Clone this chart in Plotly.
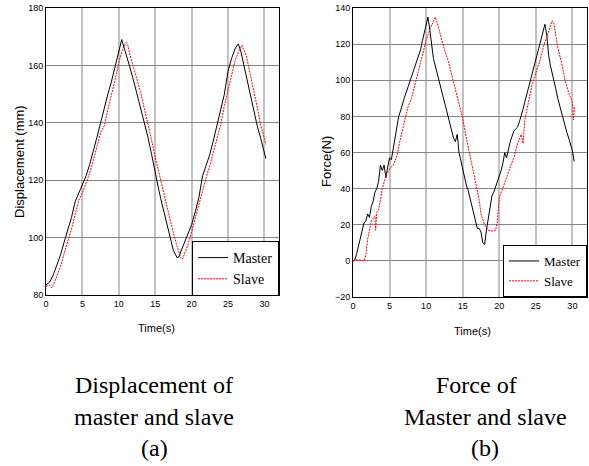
import plotly.graph_objects as go

# ---------------- data ----------------
disp_master_t = [0, 0.5, 1.0, 1.5, 2.0, 2.5, 3.0, 3.5, 4.0, 4.25, 4.5, 5.0, 5.5, 6.0, 6.5, 7.0, 7.5, 8.0, 8.5, 9.0,
                 9.5, 10.0, 10.4, 10.75, 11.0, 11.5, 12.0, 12.5, 13.0, 13.5, 14.0, 14.5, 15.0, 15.5, 16.0, 16.5,
                 17.0, 17.5, 18.0, 18.25, 18.5, 19.0, 19.5, 20.0, 20.5, 21.0, 21.5, 22.0, 22.5, 23.0, 23.5, 24.0,
                 24.5, 25.0, 25.5, 26.0, 26.4, 26.75, 27.0, 27.5, 28.0, 28.5, 29.0, 29.5, 30.0, 30.2]
disp_master_v = [83.5, 84.5, 87, 90.5, 94, 98.5, 102.5, 107, 112.5, 114, 115, 118, 121.5, 125.5, 130, 135, 140, 145.5,
                 150, 154.5, 159.5, 165, 169, 166, 164, 159.5, 155, 150, 145.5, 141, 135, 129, 122.5, 116.5, 111,
                 105.5, 100, 95.5, 93, 93.2, 95, 98, 101, 104.5, 109, 114, 121.5, 125, 129, 134, 139, 144, 150, 158,
                 162.5, 166, 167.5, 165, 162, 157, 151, 145, 139, 134.5, 130, 127.5]

disp_slave_t = [0, 0.5, 0.75, 1.0, 1.25, 1.5, 2.0, 2.5, 3.0, 3.5, 4.0, 4.5, 5.0, 5.5, 6.0, 6.5, 7.0, 7.5, 8.0, 8.5,
                9.0, 9.5, 10.0, 10.5, 11.0, 11.25, 11.5, 12.0, 12.5, 13.0, 13.5, 14.0, 14.5, 15.0, 15.5, 16.0,
                16.5, 17.0, 17.5, 18.0, 18.5, 18.75, 19.0, 19.5, 20.0, 20.5, 21.0, 21.5, 22.0, 22.5, 23.0, 23.5,
                24.0, 24.5, 25.0, 25.5, 26.0, 26.5, 26.9, 27.5, 28.0, 28.5, 29.0, 29.5, 30.0, 30.2]
disp_slave_v = [83, 83.5, 82.5, 83.5, 85, 86.5, 90, 94.5, 98.5, 103, 108, 113, 115.5, 119, 122.5, 127, 131.5, 136.5,
                139, 145, 150, 155, 161, 165.5, 168, 167, 164, 159.5, 155, 150.5, 145, 140, 134, 128, 122.5, 117,
                112, 106.5, 101.5, 97, 93, 92.5, 94, 97.5, 102, 107, 111.5, 116.5, 121, 125, 130, 134.5, 139.5,
                146, 151, 157, 162, 165, 167, 163.5, 158, 151.5, 145.5, 139, 134.5, 132.5]

force_master_t = [0, 0.25, 0.5, 0.75, 1.0, 1.25, 1.5, 1.75, 2.0, 2.25, 2.5, 2.75, 3.0, 3.25, 3.5, 3.75, 4.0, 4.25,
                  4.5, 4.75, 5.0, 5.25, 5.5, 5.75, 6.0, 6.25, 6.5, 6.75, 7.0, 7.25, 7.5, 7.75, 8.0, 8.25, 8.5,
                  8.75, 9.0, 9.25, 9.5, 9.75, 10.0, 10.25, 10.5, 10.75, 11.0, 11.25, 11.5, 11.75, 12.0, 12.25,
                  12.5, 12.75, 13.0, 13.25, 13.5, 13.75, 14.0, 14.25, 14.5, 14.75, 15.0, 15.25, 15.5, 15.75,
                  16.0, 16.25, 16.5, 16.75, 17.0, 17.25, 17.5, 17.75, 18.0, 18.25, 18.5, 18.75, 19.0, 19.25,
                  19.5, 19.75, 20.0, 20.25, 20.5, 20.75, 21.0, 21.25, 21.5, 21.75, 22.0, 22.25, 22.5, 22.75,
                  23.0, 23.25, 23.5, 23.75, 24.0, 24.25, 24.5, 24.75, 25.0, 25.25, 25.5, 25.75, 26.0, 26.25,
                  26.5, 26.75, 27.0, 27.25, 27.5, 27.75, 28.0, 28.25, 28.5, 28.75, 29.0, 29.25, 29.5, 29.75,
                  30.0, 30.25]
force_master_v = [0, 0.5, 4, 8, 12, 17, 21, 22, 26, 24, 30, 33, 38, 40, 44, 53, 50, 53, 46, 52, 57, 56, 62, 70, 75,
                  80, 83, 87, 90, 93, 96, 100, 103, 106, 108, 111, 114, 117, 122, 126, 131, 135, 128, 118, 112,
                  108, 104, 100, 96, 93, 89, 84, 80, 76, 73, 68, 66, 70, 60, 55, 51, 46, 42, 39, 35, 31, 27, 22,
                  18, 18, 16, 10, 9, 17, 24, 30, 36, 38, 41, 44, 46, 50, 54, 60, 57, 62, 66, 69, 72, 73, 74, 77,
                  80, 84, 88, 92, 96, 100, 104, 108, 112, 115, 119, 123, 127, 131, 125, 114, 108, 104, 100, 95,
                  90, 86, 82, 78, 74, 71, 68, 65, 61, 55]

force_slave_t = [0, 0.5, 1.0, 1.5, 1.75, 2.0, 2.5, 3.0, 3.1, 3.25, 3.5, 4.0, 4.5, 5.0, 5.5, 6.0, 6.5, 7.0, 7.5, 8.0,
                 8.5, 9.0, 9.5, 10.0, 10.5, 11.0, 11.25, 11.5, 12.0, 12.5, 13.0, 13.5, 14.0, 14.5, 15.0, 15.5,
                 16.0, 16.5, 17.0, 17.25, 17.5, 18.0, 18.5, 19.0, 19.5, 19.75, 20.0, 20.5, 21.0, 21.5, 22.0, 22.5,
                 23.0, 23.25, 23.5, 24.0, 24.5, 25.0, 25.5, 26.0, 26.5, 27.0, 27.25, 27.5, 28.0, 28.5, 29.0, 29.5,
                 30.0, 30.15, 30.3]
force_slave_v = [0, 0.5, 0.5, 0, 3, 12, 22, 25, 17, 27, 28, 40, 47, 51, 53, 58, 68, 76, 85, 90, 98, 106, 114, 122,
                 128, 133, 135, 132, 124, 117, 111, 103, 96, 87, 79, 68, 58, 50, 38, 34, 26, 20, 17, 16.5, 17, 22,
                 35, 40, 46, 52, 57, 65, 70, 65, 78, 88, 98, 104, 110, 118, 124, 130, 133, 131, 118, 110, 100, 93,
                 88, 78, 85]

x_ticks = [0, 5, 10, 15, 20, 25, 30]
disp_ticks = [80, 100, 120, 140, 160, 180]
force_ticks = [-20, 0, 20, 40, 60, 80, 100, 120, 140]

# ---------------- figure ----------------
W, H = 589, 466
fig = go.Figure()

master_line = dict(color="black", width=1)
slave_line = dict(color="#ff0000", width=1, dash="2px,1px")

fig.add_trace(go.Scatter(x=disp_master_t, y=disp_master_v, mode="lines", name="Master",
                         line=master_line, xaxis="x", yaxis="y", legend="legend"))
fig.add_trace(go.Scatter(x=disp_slave_t, y=disp_slave_v, mode="lines", name="Slave",
                         line=slave_line, xaxis="x", yaxis="y", legend="legend"))
fig.add_trace(go.Scatter(x=force_master_t, y=force_master_v, mode="lines", name="Master",
                         line=master_line, xaxis="x2", yaxis="y2", legend="legend2"))
fig.add_trace(go.Scatter(x=force_slave_t, y=force_slave_v, mode="lines", name="Slave",
                         line=slave_line, xaxis="x2", yaxis="y2", legend="legend2"))

tickfont = dict(family="Liberation Sans, Arial", size=9, color="black")
base = dict(showline=True, linecolor="black", linewidth=1, mirror=True, showgrid=True,
            zeroline=False, ticks="", tickfont=tickfont, automargin=False)
x_axis_style = dict(gridcolor="#c2c2c2", gridwidth=1.5, **base)
y_axis_style = dict(gridcolor="#858585", gridwidth=1.2, **base)

fig.update_layout(
    width=W, height=H,
    margin=dict(l=0, r=0, t=0, b=0, autoexpand=False),
    paper_bgcolor="white", plot_bgcolor="white",
    xaxis=dict(domain=[46 / W, 279 / W], range=[0, 32], tickvals=x_ticks, anchor="y", **x_axis_style),
    yaxis=dict(domain=[1 - 295 / H, 1 - 8 / H], range=[80, 180], tickvals=disp_ticks, anchor="x", **y_axis_style),
    xaxis2=dict(domain=[353 / W, 587 / W], range=[0, 32], tickvals=x_ticks, anchor="y2", **x_axis_style),
    yaxis2=dict(domain=[1 - 297 / H, 1 - 8 / H], range=[-20, 140], tickvals=force_ticks, anchor="x2",
                **y_axis_style),
    legend=dict(x=279 / W, y=1 - 296 / H, xanchor="right", yanchor="bottom", xref="paper", yref="paper",
                bgcolor="white", bordercolor="black", borderwidth=1,
                font=dict(family="Liberation Serif, Times New Roman", size=14, color="black"),
                tracegroupgap=0, itemwidth=30),
    legend2=dict(x=587 / W, y=1 - 297 / H, xanchor="right", yanchor="bottom", xref="paper", yref="paper",
                 bgcolor="white", bordercolor="black", borderwidth=1,
                 font=dict(family="Liberation Serif, Times New Roman", size=13, color="black"),
                 tracegroupgap=0, itemwidth=30),
    showlegend=True,
)

def px_ann(text, x, y, size, family, angle=0):
    fig.add_annotation(text=text, x=x / W, y=1 - y / H, xref="paper", yref="paper",
                       showarrow=False, textangle=angle, xanchor="center", yanchor="middle",
                       font=dict(family=family, size=size, color="black"))

sans = "Liberation Sans, Arial"
serif = "Liberation Serif, Times New Roman"
px_ann("Displacement (mm)", 20, 162, 13, sans, -90)
px_ann("Force(N)", 327, 162, 13, sans, -90)
px_ann("Time(s)", 156, 328, 11, sans)
px_ann("Time(s)", 472, 331, 11, sans)

px_ann("Displacement of", 154, 385, 24, serif)
px_ann("master and slave", 154, 417, 24, serif)
px_ann("(a)", 154, 448, 24, serif)
px_ann("Force of", 476, 385, 24, serif)
px_ann("Master and slave", 485, 417, 24, serif)
px_ann("(b)", 485, 448, 24, serif)

fig.write_html("out.html", config={"displayModeBar": False},
               post_script="document.body.style.margin='0';document.body.style.overflow='hidden';")
